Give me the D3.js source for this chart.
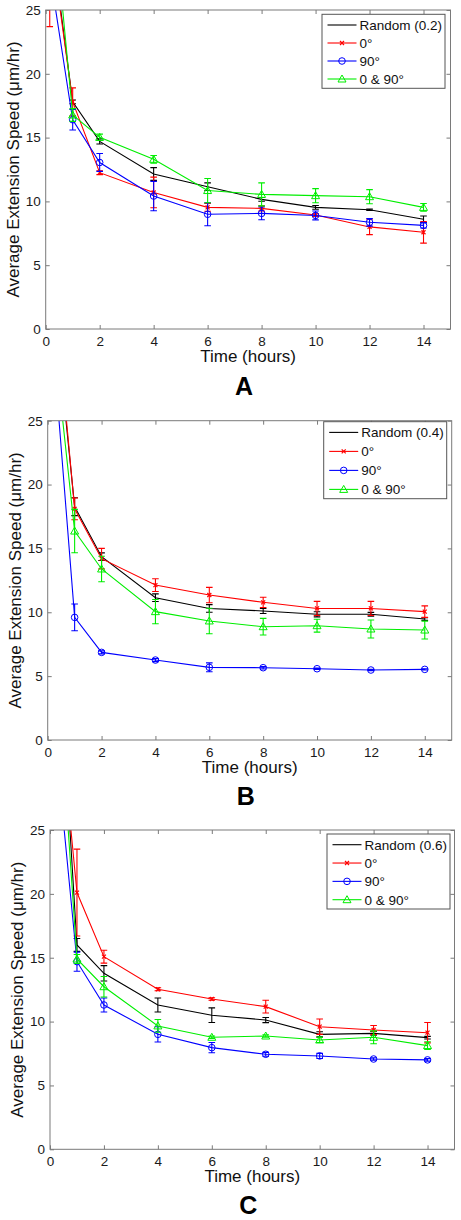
<!DOCTYPE html>
<html>
<head>
<meta charset="utf-8">
<script src="https://cdn.jsdelivr.net/npm/d3@7"></script>
<style>
  html, body { margin: 0; padding: 0; background: #fff; }
  svg { display: block; font-family: "Liberation Sans", Arial, Helvetica, sans-serif; }
</style>
</head>
<body>
<svg id="chart" width="461" height="1220"></svg>
<script>
// ---------- data ----------
const times = [0.15, 1, 2, 4, 6, 8, 10, 12, 14];
const xTicks = [0, 2, 4, 6, 8, 10, 12, 14];
const yTicks = [0, 5, 10, 15, 20, 25];
const seriesNames = ["Random", "0°", "90°", "0 & 90°"];
const panelLetters = ["A", "B", "C"];
const randomFractions = ["0.2", "0.4", "0.6"];

// Panel A
const randomA = [31.6, 17.8, 14.7, 12.15, 11.15, 10.16, 9.53, 9.35, 8.6];
const randomAErr = [1, 0.15, 0.2, 0.5, 0.3, 0.15, 0.15, 0.05, 0.25];
const redA = [31, 17.8, 12.25, 10.7, 9.53, 9.45, 8.93, 8.0, 7.58];
const redAErr = [7.3, 1.1, 0.15, 1.2, 0.3, 0.2, 0.1, 0.6, 0.85];
const blueA = [28, 16.4, 13.05, 10.42, 8.99, 9.06, 8.9, 8.36, 8.12];
const blueAErr = [1, 0.8, 0.7, 1.15, 0.9, 0.5, 0.35, 0.3, 0.2];
const greenA = [35.7, 16.77, 15.02, 13.3, 10.85, 10.55, 10.45, 10.37, 9.53];
const greenAErr = [1, 0.5, 0.25, 0.3, 0.95, 0.9, 0.55, 0.55, 0.3];

// Panel B
const randomB = [36.1, 18.27, 14.35, 11.14, 10.3, 10.1, 9.84, 9.84, 9.47];
const randomBErr = [1, 0.7, 0.3, 0.3, 0.3, 0.2, 0.2, 0.15, 0.1];
const redB = [37.5, 18.1, 14.2, 12.13, 11.35, 10.78, 10.3, 10.3, 10.05];
const redBErr = [1, 0.85, 0.8, 0.5, 0.6, 0.4, 0.55, 0.55, 0.45];
const blueB = [32.2, 9.6, 6.86, 6.26, 5.69, 5.66, 5.58, 5.48, 5.53];
const blueBErr = [1, 1.05, 0.12, 0.12, 0.35, 0.1, 0.05, 0.05, 0.05];
const greenB = [33, 16.36, 13.39, 10.05, 9.32, 8.87, 8.95, 8.69, 8.61];
const greenBErr = [1, 1.7, 1.0, 0.95, 1.0, 0.65, 0.5, 0.7, 0.7];

// Panel C
const randomC = [45.4, 16.0, 13.78, 11.3, 10.5, 10.12, 9.0, 9.08, 8.74];
const randomCErr = [1, 0.5, 0.6, 0.55, 0.57, 0.2, 0.2, 0.15, 0.1];
const redC = [38.7, 20.1, 15.08, 12.53, 11.77, 11.17, 9.6, 9.34, 9.13];
const redCErr = [1, 3.4, 0.5, 0.12, 0.1, 0.5, 0.6, 0.35, 0.8];
const blueC = [33.2, 14.69, 11.3, 9.0, 7.96, 7.44, 7.31, 7.07, 7.0];
const blueCErr = [1, 0.75, 0.55, 0.6, 0.4, 0.15, 0.2, 0.1, 0.1];
const greenC = [41.4, 14.9, 12.73, 9.66, 8.77, 8.87, 8.56, 8.77, 8.12];
const greenCErr = [1, 0.35, 0.8, 0.5, 0.1, 0.1, 0.2, 0.5, 0.3];

// ---------- layout / style ----------
const panels = [
  { left: 45.7, right: 450.5, top: 10, bottom: 329, legendTop: 14.3, legendRight: 445, legendH: 74,
    series: [[randomA, randomAErr], [redA, redAErr], [blueA, blueAErr], [greenA, greenAErr]], letterDy: 66 },
  { left: 47.7, right: 451.7, top: 420.7, bottom: 740, legendTop: 421.7, legendRight: 446.7, legendH: 77,
    series: [[randomB, randomBErr], [redB, redBErr], [blueB, blueBErr], [greenB, greenBErr]], letterDy: 65 },
  { left: 50, right: 454.5, top: 830, bottom: 1149.3, legendTop: 834, legendRight: 450, legendH: 75,
    series: [[randomC, randomCErr], [redC, redCErr], [blueC, blueCErr], [greenC, greenCErr]], letterDy: 65 }
];
const colors = ["#000000", "#ff0000", "#0000ff", "#00ee00"];
const markers = ["none", "x", "circle", "triangle"];
const axisColor = "#7a7a7a";

const svg = d3.select("#chart");

function drawMarker(g, type, x, y, color) {
  if (type === "x") {
    const s = 2;
    g.append("path").attr("d", `M${x-s},${y-s}L${x+s},${y+s}M${x-s},${y+s}L${x+s},${y-s}`)
      .attr("stroke", color).attr("stroke-width", 1.2).attr("fill", "none");
  } else if (type === "circle") {
    g.append("circle").attr("cx", x).attr("cy", y).attr("r", 3.3)
      .attr("stroke", color).attr("stroke-width", 1).attr("fill", "none");
  } else if (type === "triangle") {
    const s = 4;
    g.append("path").attr("d", `M${x},${y-s}L${x+s},${y+s*0.75}L${x-s},${y+s*0.75}Z`)
      .attr("stroke", color).attr("stroke-width", 1).attr("fill", "none");
  }
}

panels.forEach((p, pi) => {
  const x = d3.scaleLinear().domain([0, 15]).range([p.left, p.right]);
  const y = d3.scaleLinear().domain([0, 25]).range([p.bottom, p.top]);
  const g = svg.append("g");

  const clipId = "clip" + pi;
  svg.append("clipPath").attr("id", clipId).append("rect")
    .attr("x", p.left).attr("y", p.top).attr("width", p.right - p.left).attr("height", p.bottom - p.top);

  // axes with inward ticks on all four sides
  const tickStyle = sel => {
    sel.select(".domain").remove();
    sel.selectAll(".tick line").attr("stroke", axisColor);
    sel.selectAll(".tick text").attr("fill", "#1a1a1a").style("font-size", "13.5px")
      .style("font-family", '"Liberation Sans", Arial, sans-serif');
  };
  g.append("g").attr("transform", `translate(0,${p.bottom})`)
    .call(d3.axisBottom(x).tickValues(xTicks).tickSize(-4).tickPadding(7).tickFormat(d3.format("d")))
    .call(tickStyle);
  g.append("g").attr("transform", `translate(0,${p.top})`)
    .call(d3.axisTop(x).tickValues(xTicks).tickSize(-4).tickFormat(""))
    .call(tickStyle);
  g.append("g").attr("transform", `translate(${p.left},0)`)
    .call(d3.axisLeft(y).tickValues(yTicks).tickSize(-4).tickPadding(5).tickFormat(d3.format("d")))
    .call(tickStyle);
  g.append("g").attr("transform", `translate(${p.right},0)`)
    .call(d3.axisRight(y).tickValues(yTicks).tickSize(-4).tickFormat(""))
    .call(tickStyle);

  // data
  const plot = g.append("g").attr("clip-path", `url(#${clipId})`);
  p.series.forEach((s, si) => {
    const vals = s[0], errs = s[1];
    const pts = times.map((t, i) => ({ t, v: vals[i], e: errs[i] }));
    const color = colors[si];
    plot.append("path").datum(pts)
      .attr("d", d3.line().x(d => x(d.t)).y(d => y(d.v)))
      .attr("fill", "none").attr("stroke", color).attr("stroke-width", 1.1);
    pts.forEach(d => {
      const cx = x(d.t), y1 = y(d.v + d.e), y2 = y(d.v - d.e), cw = 3.3;
      plot.append("path")
        .attr("d", `M${cx},${y1}L${cx},${y2}M${cx-cw},${y1}L${cx+cw},${y1}M${cx-cw},${y2}L${cx+cw},${y2}`)
        .attr("stroke", color).attr("stroke-width", 1.1).attr("fill", "none");
      drawMarker(plot, markers[si], cx, y(d.v), color);
    });
  });

  // frame
  g.append("rect").attr("x", p.left).attr("y", p.top)
    .attr("width", p.right - p.left).attr("height", p.bottom - p.top)
    .attr("fill", "none").attr("stroke", axisColor).attr("stroke-width", 1);

  // axis labels
  const cxp = (p.left + p.right) / 2, cyp = (p.top + p.bottom) / 2;
  g.append("text").attr("x", cxp).attr("y", p.bottom + 33).attr("text-anchor", "middle")
    .style("font-size", "17px").attr("fill", "#111").text("Time (hours)");
  g.append("text").attr("transform", `translate(${p.left - 27},${cyp}) rotate(-90)`)
    .attr("text-anchor", "middle").style("font-size", "17px").attr("fill", "#111")
    .text("Average Extension Speed (μm/hr)");
  g.append("text").attr("x", cxp - 4).attr("y", p.bottom + p.letterDy).attr("text-anchor", "middle")
    .style("font-size", "25px").style("font-weight", "bold").attr("fill", "#000")
    .text(panelLetters[pi]);

  // legend
  const lw = 123, lx = p.legendRight - lw, ly = p.legendTop;
  const lg = g.append("g");
  lg.append("rect").attr("x", lx).attr("y", ly).attr("width", lw).attr("height", p.legendH)
    .attr("fill", "#fff").attr("stroke", "#555").attr("stroke-width", 1);
  const step = (p.legendH - 20) / 3;
  seriesNames.forEach((name, si) => {
    const ry = ly + 10.7 + si * step;
    lg.append("line").attr("x1", lx + 5.5).attr("x2", lx + 34.5).attr("y1", ry).attr("y2", ry)
      .attr("stroke", colors[si]).attr("stroke-width", 1.1);
    drawMarker(lg, markers[si], lx + 20, ry, colors[si]);
    lg.append("text").attr("x", lx + 37.5).attr("y", ry + 4.8)
      .style("font-size", "13.5px").attr("fill", "#111")
      .text(si === 0 ? `${name} (${randomFractions[pi]})` : name);
  });
});
</script>
</body>
</html>
